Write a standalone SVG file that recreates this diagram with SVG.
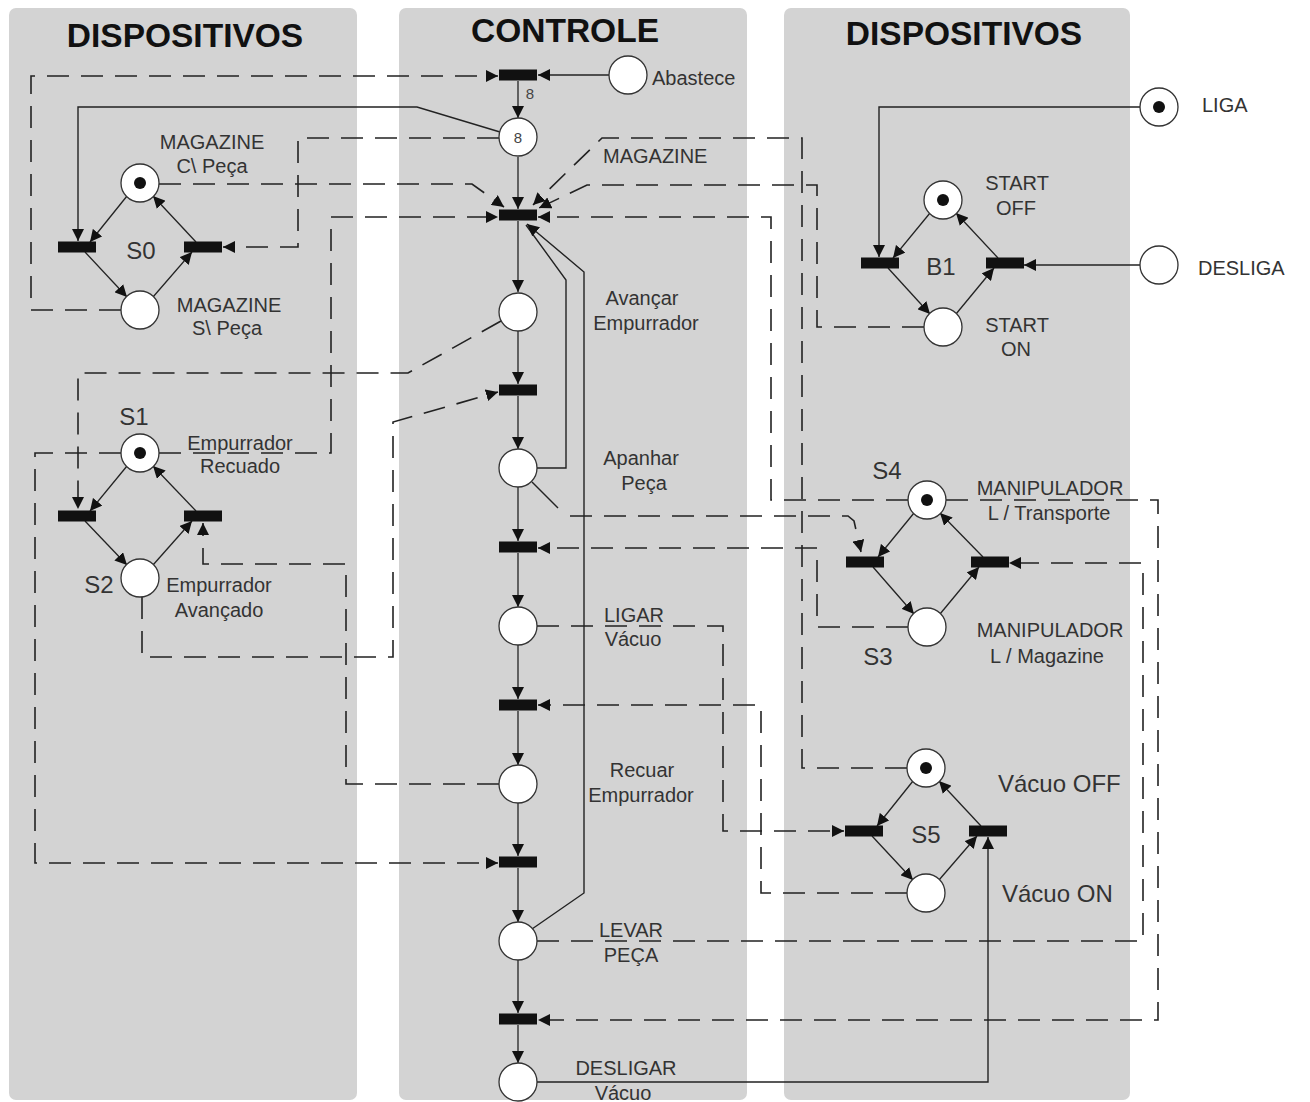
<svg xmlns="http://www.w3.org/2000/svg" width="1310" height="1102" viewBox="0 0 1310 1102">
  <style>
    .panel { fill: #d3d3d3; }
    .title { font-family: "Liberation Sans", Arial, sans-serif; font-weight: bold; font-size: 33.5px; fill: #111; text-anchor: middle; }
    .lbl { font-family: "Liberation Sans", Arial, sans-serif; font-size: 20px; fill: #333; text-anchor: middle; }
    .lbl-s { font-family: "Liberation Sans", Arial, sans-serif; font-size: 24px; fill: #333; text-anchor: middle; }
    .lbl-big { font-family: "Liberation Sans", Arial, sans-serif; font-size: 24px; fill: #333; }
    .small { font-family: "Liberation Sans", Arial, sans-serif; font-size: 15px; fill: #444; text-anchor: middle; }
    .place { fill: #fff; stroke: #333; stroke-width: 1.3; }
    .token { fill: #111; }
    .trans { fill: #111; }
    .arc { fill: none; stroke: #222; stroke-width: 1.3; marker-end: url(#ah); }
    .solid { fill: none; stroke: #222; stroke-width: 1.4; }
    .dash { fill: none; stroke: #222; stroke-width: 1.6; stroke-dasharray: 22 12; }
    .end { marker-end: url(#ah); }
  </style>
  <defs>
    <marker id="ah" viewBox="0 0 10 10" refX="10" refY="5" markerUnits="userSpaceOnUse" markerWidth="12" markerHeight="12" orient="auto">
      <path d="M0,0 L10,5 L0,10 z" fill="#111"/>
    </marker>
  </defs>

  <!-- background columns -->
  <g id="columns">
    <rect class="panel" x="9" y="8" width="348" height="1092" rx="7"/>
    <rect class="panel" x="399" y="8" width="348" height="1092" rx="7"/>
    <rect class="panel" x="784" y="8" width="346" height="1092" rx="7"/>
    <text class="title" x="185" y="47">DISPOSITIVOS</text>
    <text class="title" x="565" y="42">CONTROLE</text>
    <text class="title" x="964" y="45">DISPOSITIVOS</text>
  </g>

  <!-- arcs between places and transitions -->
  <g id="connectors">
    <!-- control spine -->
    <path class="arc" d="M518,81 V118"/>
    <path class="arc" d="M518,157 V209"/>
    <path class="arc" d="M518,221 V292"/>
    <path class="arc" d="M518,331 V384"/>
    <path class="arc" d="M518,396 V449"/>
    <path class="arc" d="M518,487 V541"/>
    <path class="arc" d="M518,553 V607"/>
    <path class="arc" d="M518,645 V699"/>
    <path class="arc" d="M518,711 V765"/>
    <path class="arc" d="M518,803 V856"/>
    <path class="arc" d="M518,868 V922"/>
    <path class="arc" d="M518,960 V1013"/>
    <path class="arc" d="M518,1025 V1063"/>

    <!-- supply -->
    <path class="arc" d="M609,75 H538"/>
    <path class="solid end" d="M500,132 L417,107 H78 V241"/>
    <path class="dash end" d="M121,310 H31 V76 H498"/>
    <path class="dash end" d="M499,138 H298 V247 H223"/>

    <!-- start transition inputs -->
    <path class="dash end" d="M159,184 H472 L504,207"/>
    <path class="dash end" d="M159,453 H331 V217 H498"/>
    <path class="dash end" d="M907,768 H802 V138 H602 L533,205"/>
    <path class="dash end" d="M924,327 H817 V185 H587 L539,208"/>
    <path class="dash end" d="M908,500 H771 V217 H538"/>
    <path class="solid" d="M537,468 H566 V280 L526,225"/>
    <path class="solid end" d="M532,929 L584,893 V272 L527,224"/>

    <!-- pusher -->
    <path class="dash end" d="M501,321 L408,373 H78 V509"/>
    <path class="dash end" d="M142,597 V657 H393 V422 L498,392"/>
    <path class="dash end" d="M499,784 H346 V564 H203 V523"/>
    <path class="dash end" d="M121,453 H35 V863 H498"/>

    <!-- manipulator -->
    <path class="solid" d="M532,482 L558,508"/>
    <path class="dash end" d="M570,516 H848 L854,521 L861,552"/>
    <path class="dash end" d="M908,627 H817 V548 H538"/>
    <path class="dash end" d="M537,941 H1143 V563 H1009"/>
    <path class="dash end" d="M946,500 H1158 V1020 H538"/>

    <!-- vacuum -->
    <path class="dash end" d="M537,626 H723 V831 H844"/>
    <path class="dash end" d="M907,893 H761 V705 H538"/>
    <path class="solid end" d="M537,1082 H988 V837"/>

    <!-- start button -->
    <path class="solid end" d="M1140,107 H879 V257"/>
    <path class="solid end" d="M1140,265 H1024"/>

    <!-- S0 cycle -->
    <path class="arc" d="M127,196 L90,242"/>
    <path class="arc" d="M85,252 L127,297"/>
    <path class="arc" d="M153,297 L192,252"/>
    <path class="arc" d="M196,242 L153,196"/>
    <!-- S1/S2 cycle -->
    <path class="arc" d="M127,466 L90,511"/>
    <path class="arc" d="M85,521 L127,565"/>
    <path class="arc" d="M153,565 L192,521"/>
    <path class="arc" d="M196,511 L153,466"/>
    <!-- B1 cycle -->
    <path class="arc" d="M930,213 L893,258"/>
    <path class="arc" d="M888,268 L930,314"/>
    <path class="arc" d="M956,314 L994,268"/>
    <path class="arc" d="M998,258 L956,213"/>
    <!-- S4/S3 cycle -->
    <path class="arc" d="M914,513 L878,557"/>
    <path class="arc" d="M873,567 L914,614"/>
    <path class="arc" d="M940,614 L979,567"/>
    <path class="arc" d="M983,557 L940,513"/>
    <!-- S5 cycle -->
    <path class="arc" d="M913,781 L877,826"/>
    <path class="arc" d="M872,836 L913,880"/>
    <path class="arc" d="M939,880 L977,836"/>
    <path class="arc" d="M981,826 L939,781"/>
  </g>

  <!-- control column -->
  <g id="t-abastece"><rect class="trans" x="499" y="69.5" width="38" height="11"/></g>
  <g id="p-abastece"><circle class="place" cx="628" cy="75" r="19"/><text class="lbl" x="652" y="85" style="text-anchor:start">Abastece</text></g>
  <g id="arc-weight"><text class="small" x="530" y="99">8</text></g>
  <g id="p-estoque"><circle class="place" cx="518" cy="137" r="19"/><text class="small" x="518" y="143">8</text></g>
  <g id="t-inicio"><rect class="trans" x="499" y="209.5" width="38" height="11"/></g>
  <g id="lbl-magazine"><text class="lbl" x="603" y="163" style="text-anchor:start">MAGAZINE</text></g>
  <g id="p-avancar"><circle class="place" cx="518" cy="312" r="19"/><text class="lbl" x="642" y="305">Avançar</text><text class="lbl" x="646" y="330">Empurrador</text></g>
  <g id="t-2"><rect class="trans" x="499" y="384.5" width="38" height="11"/></g>
  <g id="p-apanhar"><circle class="place" cx="518" cy="468" r="19"/><text class="lbl" x="641" y="465">Apanhar</text><text class="lbl" x="644" y="490">Peça</text></g>
  <g id="t-3"><rect class="trans" x="499" y="541.5" width="38" height="11"/></g>
  <g id="p-ligar"><circle class="place" cx="518" cy="626" r="19"/><text class="lbl" x="634" y="622">LIGAR</text><text class="lbl" x="633" y="646">Vácuo</text></g>
  <g id="t-4"><rect class="trans" x="499" y="699.5" width="38" height="11"/></g>
  <g id="p-recuar"><circle class="place" cx="518" cy="784" r="19"/><text class="lbl" x="642" y="777">Recuar</text><text class="lbl" x="641" y="802">Empurrador</text></g>
  <g id="t-5"><rect class="trans" x="499" y="856.5" width="38" height="11"/></g>
  <g id="p-levar"><circle class="place" cx="518" cy="941" r="19"/><text class="lbl" x="631" y="937">LEVAR</text><text class="lbl" x="631" y="962">PEÇA</text></g>
  <g id="t-6"><rect class="trans" x="499" y="1013.5" width="38" height="11"/></g>
  <g id="p-desligar"><circle class="place" cx="518" cy="1082" r="19"/><text class="lbl" x="626" y="1075">DESLIGAR</text><text class="lbl" x="623" y="1100">Vácuo</text></g>

  <!-- S0 magazine -->
  <g id="s0">
    <circle class="place" cx="140" cy="183" r="19"/><circle class="token" cx="140" cy="183" r="6"/>
    <circle class="place" cx="140" cy="310" r="19"/>
    <rect class="trans" x="58" y="241.5" width="38" height="11"/>
    <rect class="trans" x="184" y="241.5" width="38" height="11"/>
    <text class="lbl-s" x="141" y="259">S0</text>
    <text class="lbl" x="212" y="149">MAGAZINE</text><text class="lbl" x="212" y="173">C\ Peça</text>
    <text class="lbl" x="229" y="312">MAGAZINE</text><text class="lbl" x="227" y="335">S\ Peça</text>
  </g>

  <!-- S1/S2 pusher -->
  <g id="s1s2">
    <circle class="place" cx="140" cy="453" r="19"/><circle class="token" cx="140" cy="453" r="6"/>
    <circle class="place" cx="140" cy="578" r="19"/>
    <rect class="trans" x="58" y="510.5" width="38" height="11"/>
    <rect class="trans" x="184" y="510.5" width="38" height="11"/>
    <text class="lbl-s" x="134" y="425">S1</text>
    <text class="lbl-s" x="99" y="593">S2</text>
    <text class="lbl" x="240" y="450">Empurrador</text><text class="lbl" x="240" y="473">Recuado</text>
    <text class="lbl" x="219" y="592">Empurrador</text><text class="lbl" x="219" y="617">Avançado</text>
  </g>

  <!-- B1 start button -->
  <g id="b1">
    <circle class="place" cx="943" cy="200" r="19"/><circle class="token" cx="943" cy="200" r="6"/>
    <circle class="place" cx="943" cy="327" r="19"/>
    <rect class="trans" x="861" y="257.5" width="38" height="11"/>
    <rect class="trans" x="986" y="257.5" width="38" height="11"/>
    <text class="lbl-s" x="941" y="275">B1</text>
    <text class="lbl" x="1017" y="190">START</text><text class="lbl" x="1016" y="215">OFF</text>
    <text class="lbl" x="1017" y="332">START</text><text class="lbl" x="1016" y="356">ON</text>
  </g>
  <g id="p-liga"><circle class="place" cx="1159" cy="107" r="19"/><circle class="token" cx="1159" cy="107" r="6"/><text class="lbl" x="1202" y="112" style="text-anchor:start">LIGA</text></g>
  <g id="p-desliga"><circle class="place" cx="1159" cy="265" r="19"/><text class="lbl" x="1198" y="275" style="text-anchor:start">DESLIGA</text></g>

  <!-- S3/S4 manipulator -->
  <g id="s3s4">
    <circle class="place" cx="927" cy="500" r="19"/><circle class="token" cx="927" cy="500" r="6"/>
    <circle class="place" cx="927" cy="627" r="19"/>
    <rect class="trans" x="846" y="556.5" width="38" height="11"/>
    <rect class="trans" x="971" y="556.5" width="38" height="11"/>
    <text class="lbl-s" x="887" y="479">S4</text>
    <text class="lbl-s" x="878" y="665">S3</text>
    <text class="lbl" x="1050" y="495">MANIPULADOR</text><text class="lbl" x="1049" y="520">L / Transporte</text>
    <text class="lbl" x="1050" y="637">MANIPULADOR</text><text class="lbl" x="1047" y="663">L / Magazine</text>
  </g>

  <!-- S5 vacuum -->
  <g id="s5">
    <circle class="place" cx="926" cy="768" r="19"/><circle class="token" cx="926" cy="768" r="6"/>
    <circle class="place" cx="926" cy="893" r="19"/>
    <rect class="trans" x="845" y="825.5" width="38" height="11"/>
    <rect class="trans" x="969" y="825.5" width="38" height="11"/>
    <text class="lbl-s" x="926" y="843">S5</text>
    <text class="lbl-big" x="998" y="792">Vácuo OFF</text>
    <text class="lbl-big" x="1002" y="902">Vácuo ON</text>
  </g>
</svg>
